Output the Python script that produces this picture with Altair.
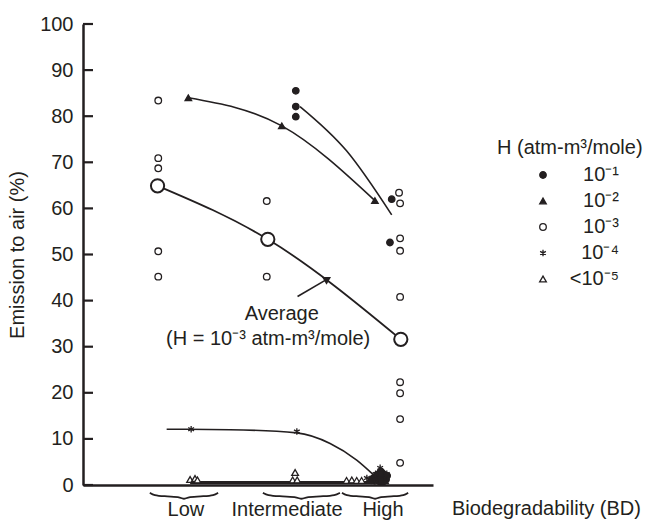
import altair as alt
import pandas as pd

FONT = "Liberation Sans"
INK = "#231f20"
FS = 20

# ---------------- data (x = biodegradability index 0-100, y = emission to air %) -------------
h_labels = ["10⁻¹", "10⁻²", "10⁻³", "10⁻⁴", "<10⁻⁵"]

h1_x = [60.8, 60.8, 60.8, 88.2, 87.7,
        84.6, 85.4, 86.1, 85.0, 85.8, 84.2, 86.6, 83.4, 84.0, 85.2, 83.0, 82.4, 86.9, 85.6, 84.8]
h1_y = [85.5, 82.1, 79.9, 62.0, 52.6,
        0.8, 1.0, 1.4, 2.0, 2.4, 1.6, 1.2, 0.9, 2.2, 2.9, 1.5, 1.0, 2.0, 0.6, 2.6]

h2_x = [30.1, 56.8, 83.4, 82.0, 86.3]
h2_y = [84.0, 77.9, 61.7, 1.2, 0.9]

h3_x = [21.5, 21.5, 21.5, 21.5, 21.5, 52.5, 52.5,
        90.3, 90.6, 90.6, 90.6, 90.6, 90.6, 90.6, 90.6, 90.6]
h3_y = [83.4, 70.9, 68.7, 50.7, 45.2, 61.6, 45.2,
        63.4, 61.1, 53.5, 50.8, 40.8, 22.3, 19.9, 14.3, 4.8]

h4_x = [30.9, 61.1, 84.9, 81.1, 83.6, 86.8]
h4_y = [12.1, 11.6, 3.7, 1.5, 2.4, 2.4]

h5_x = [30.6, 32.0, 32.7, 60.6, 59.9, 61.2, 75.3, 76.8, 78.2, 79.6]
h5_y = [1.2, 1.4, 1.1, 2.7, 1.1, 1.1, 1.0, 1.1, 1.0, 1.0]

# average of the 10^-3 group
avg_x = [21.3, 52.8, 90.8]
avg_y = [64.9, 53.3, 31.6]

# fitted curves
c1_x = [62.0, 75.3, 88.2]
c1_y = [82.1, 72.5, 58.6]
c2_x = [30.1, 56.8, 83.4]
c2_y = [84.0, 77.9, 61.7]
c4_x = [23.9, 42.0, 61.1, 70.6, 78.2, 83.0]
c4_y = [12.1, 12.0, 11.3, 9.0, 5.4, 2.2]
c5_x = [30.6, 83.5]
c5_y = [0.5, 0.5]

# biodegradability categories (x spans of the braces, label centres)
bd_names = ["Low", "Intermediate", "High"]
bd_start = [19.1, 51.4, 74.0]
bd_end = [38.6, 73.4, 92.9]
bd_label_x = [29.4, 58.3, 85.7]

y_ticks = [0, 10, 20, 30, 40, 50, 60, 70, 80, 90, 100]

# ---------------- tables ----------------
pts = pd.concat([
    pd.DataFrame({"x": h1_x, "y": h1_y, "H": h_labels[0]}),
    pd.DataFrame({"x": h2_x, "y": h2_y, "H": h_labels[1]}),
    pd.DataFrame({"x": h3_x, "y": h3_y, "H": h_labels[2]}),
    pd.DataFrame({"x": h4_x, "y": h4_y, "H": h_labels[3]}),
    pd.DataFrame({"x": h5_x, "y": h5_y, "H": h_labels[4]}),
], ignore_index=True)

curves = pd.concat([
    pd.DataFrame({"x": c1_x, "y": c1_y, "c": "c1", "w": 1.6}),
    pd.DataFrame({"x": c2_x, "y": c2_y, "c": "c2", "w": 1.6}),
    pd.DataFrame({"x": avg_x, "y": avg_y, "c": "avg", "w": 1.8}),
    pd.DataFrame({"x": c4_x, "y": c4_y, "c": "c4", "w": 1.6}),
    pd.DataFrame({"x": c5_x, "y": c5_y, "c": "c5", "w": 3.2}),
], ignore_index=True)

avg_df = pd.DataFrame({"x": avg_x, "y": avg_y})

# brace template (shape of a horizontal curly brace)
br_t = [0.0, 0.06, 0.2, 0.44, 0.5, 0.56, 0.8, 0.94, 1.0]
br_dy = [0.6, 0.05, -0.15, -0.25, -0.9, -0.25, -0.15, 0.05, 0.6]
brace_rows = []
for name, s, e in zip(bd_names, bd_start, bd_end):
    for i, (t, d) in enumerate(zip(br_t, br_dy)):
        brace_rows.append({"g": name, "o": i, "x": s + t * (e - s), "y": -2.3 + d})
braces = pd.DataFrame(brace_rows)
bd_labels = pd.DataFrame({"name": bd_names, "x": bd_label_x, "y": [-5.5] * 3})

xs = alt.Scale(domain=[0, 100])
ys = alt.Scale(domain=[0, 100])
X = alt.X("x:Q", scale=xs, axis=alt.Axis(labels=False, ticks=False, title=None,
                                          domainWidth=2.5, domainColor=INK, grid=False))
Y = alt.Y("y:Q", scale=ys, axis=alt.Axis(values=y_ticks, ticks=False, labelPadding=10,
                                          title="Emission to air (%)", titlePadding=12,
                                          domainWidth=2.5, domainColor=INK, grid=False))

star = "M0,-1L0,1M-0.866,-0.5L0.866,0.5M-0.866,0.5L0.866,-0.5"
shape_scale = alt.Scale(domain=h_labels,
                        range=["circle", "triangle-up", "circle", star, "triangle-up"])
fill_scale = alt.Scale(domain=h_labels,
                       range=[INK, INK, "white", "white", "white"])
stroke_scale = alt.Scale(domain=h_labels, range=[INK, INK, INK, INK, INK])
size_scale = alt.Scale(domain=h_labels, range=[42, 45, 42, 100, 50])
leg = alt.Legend(orient="none", legendX=450, legendY=141, title=None,
                 labelFontSize=FS, labelFont=FONT, labelColor=INK,
                 rowPadding=6, labelAlign="right", labelOffset=66,
                 padding=0, symbolStrokeWidth=1.3)

tick_rules = alt.Chart(pd.DataFrame({"y": y_ticks})).mark_rule(
    color=INK, strokeWidth=2.2).encode(
    y=alt.Y("y:Q", scale=ys), x=alt.value(0), x2=alt.value(10))

curve_layer = alt.Chart(curves).mark_line(color=INK, interpolate="monotone").encode(
    x=X, y=Y, detail="c:N", strokeWidth=alt.StrokeWidth("w:Q", scale=None))

point_layer = alt.Chart(pts).mark_point(filled=True, opacity=1,
                                        strokeWidth=1.3).encode(
    x=alt.X("x:Q", scale=xs), y=alt.Y("y:Q", scale=ys),
    shape=alt.Shape("H:N", scale=shape_scale, legend=leg),
    fill=alt.Fill("H:N", scale=fill_scale, legend=leg),
    stroke=alt.Stroke("H:N", scale=stroke_scale, legend=leg),
    size=alt.Size("H:N", scale=size_scale, legend=leg))

avg_layer = alt.Chart(avg_df).mark_point(filled=True, fill="white", stroke=INK,
                                         strokeWidth=2, size=175, opacity=1).encode(
    x=alt.X("x:Q", scale=xs), y=alt.Y("y:Q", scale=ys))

brace_layer = alt.Chart(braces).mark_line(color=INK, strokeWidth=1.8,
                                          interpolate="basis", clip=False).encode(
    x=alt.X("x:Q", scale=xs), y=alt.Y("y:Q", scale=ys), detail="g:N", order="o:Q")

bd_text = alt.Chart(bd_labels).mark_text(font=FONT, fontSize=FS, color=INK,
                                         baseline="middle", align="center").encode(
    x=alt.X("x:Q", scale=xs), y=alt.Y("y:Q", scale=ys), text="name:N")

ann = pd.DataFrame({"x": [105.4, 56.8, 52.9], "y": [-5.3, 37.2, 31.6],
                    "t": ["Biodegradability (BD)", "Average", "(H = 10⁻³ atm-m³/mole)"]})
ann_left = alt.Chart(ann.iloc[[0]]).mark_text(font=FONT, fontSize=FS, color=INK,
                                              align="left", baseline="middle").encode(
    x=alt.X("x:Q", scale=xs), y=alt.Y("y:Q", scale=ys), text="t:N")
ann_center = alt.Chart(ann.iloc[[1, 2]]).mark_text(font=FONT, fontSize=FS, color=INK,
                                                   align="center", baseline="middle").encode(
    x=alt.X("x:Q", scale=xs), y=alt.Y("y:Q", scale=ys), text="t:N")

arrow_df = pd.DataFrame({"x": [61.3], "y": [40.9], "x2": [69.9], "y2": [44.7]})
arrow_line = alt.Chart(arrow_df).mark_rule(color=INK, strokeWidth=1.6).encode(
    x=alt.X("x:Q", scale=xs), y=alt.Y("y:Q", scale=ys), x2="x2:Q", y2="y2:Q")
arrow_head = alt.Chart(arrow_df).mark_point(shape="triangle-right", filled=True,
                                            color=INK, size=80, angle=330,
                                            opacity=1).encode(
    x=alt.X("x2:Q", scale=xs), y=alt.Y("y2:Q", scale=ys))

legend_title = alt.Chart(pd.DataFrame({"t": ["H (atm-m³/mole)"]})).mark_text(
    font=FONT, fontSize=FS, color=INK, align="left", baseline="middle").encode(
    x=alt.value(414), y=alt.value(124), text="t:N")

chart = alt.layer(
    curve_layer, tick_rules, brace_layer, bd_text, ann_left, ann_center,
    arrow_line, arrow_head, point_layer, avg_layer, legend_title
).properties(
    width=350, height=461,
    autosize=alt.AutoSizeParams(type="none"),
    padding={"left": 83, "top": 24, "right": 235, "bottom": 39},
    background="white",
).configure_view(stroke=None).configure_axis(
    labelFont=FONT, titleFont=FONT, labelFontSize=FS, titleFontSize=FS,
    labelColor=INK, titleColor=INK, titleFontWeight="normal"
)

chart.save("out.html", embed_options={"renderer": "svg", "actions": False})
